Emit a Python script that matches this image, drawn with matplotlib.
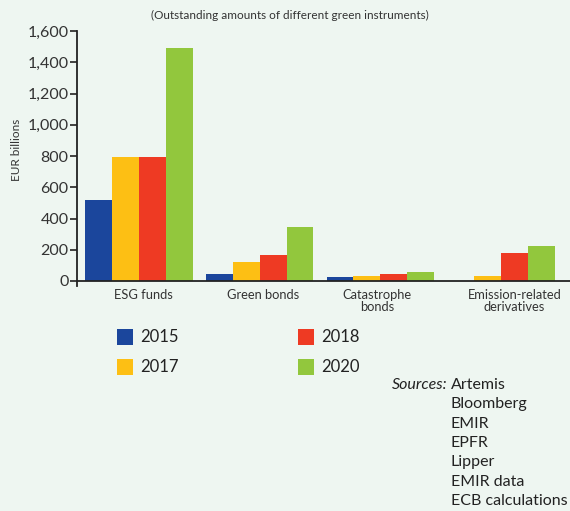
import matplotlib
matplotlib.use("Agg")
import matplotlib.pyplot as plt
import numpy as np
from matplotlib.patches import Rectangle

categories = ["ESG funds", "Green bonds", "Catastrophe\nbonds", "Emission-related\nderivatives"]
years = ["2015", "2017", "2018", "2020"]
v2015 = [520, 45, 25, 0]
v2017 = [795, 122, 32, 32]
v2018 = [795, 167, 43, 180]
v2020 = [1490, 346, 58, 224]
series = [v2015, v2017, v2018, v2020]
colors = ["#1B469C", "#FDBF14", "#EE3A23", "#92C73D"]
yticks = [0, 200, 400, 600, 800, 1000, 1200, 1400, 1600]
sources = ["Artemis", "Bloomberg", "EMIR", "EPFR", "Lipper", "EMIR data", "ECB calculations"]

bg = "#EEF6F1"
txt = "#333333"
plt.rcParams['font.family'] = ['Lato', 'DejaVu Sans']

fig = plt.figure(figsize=(5.70, 5.11), dpi=100, facecolor=bg)
ax = fig.add_axes([77/570, 1-286/511, 1-77/570, (286-31)/511])
ax.set_facecolor(bg)

x = np.arange(len(categories))
w = 0.223
for i, (vals, c) in enumerate(zip(series, colors)):
    ax.bar(x + (i - 1.5) * w, vals, width=w, color=c, linewidth=0, zorder=2)

ax.set_xlim(-0.512, 3.57)
ax.set_ylim(-32, 1600)
ax.axhline(0, color="#222222", lw=1.3, zorder=3)

for s in ["top", "right", "bottom"]:
    ax.spines[s].set_visible(False)
ax.spines["left"].set_color("#222222")
ax.spines["left"].set_linewidth(1.3)

ax.set_yticks(yticks)
ax.set_yticklabels([f"{v:,}" for v in yticks], fontsize=11.5, color=txt)
ax.tick_params(axis="y", length=5, width=1.2, color="#222222", pad=1)
ax.set_xticks([])
label_shift = [0.035, 0.03, -0.025, 0.11]
for xi, cat, sh in zip(x, categories, label_shift):
    ax.text(xi + sh, -50, cat, ha="center", va="top", fontsize=9.3, color=txt,
            linespacing=1.0)

fig.text(17/570, 1-150/511, "EUR billions", rotation=90, ha="center", va="center",
         fontsize=8.5, color=txt)
fig.text(290/570, 1-15/511, "(Outstanding amounts of different green instruments)",
         ha="center", va="center", fontsize=8.5, color=txt)

# legend
lx = [117, 117, 298, 298]
ly = [337, 367, 337, 367]
for yr, c, px, py in zip(years, colors, lx, ly):
    fig.add_artist(Rectangle((px/570, 1-(py+8)/511), 16/570, 16/511,
                             transform=fig.transFigure, color=c, lw=0))
    fig.text((px+23)/570, 1-py/511, yr, ha="left", va="center", fontsize=12,
             color="#222222")

fig.text(448/570, 1-385/511, "Sources:", ha="right", va="center", fontsize=11.5,
         style="italic", color="#222222")
for k, s in enumerate(sources):
    fig.text(451/570, 1-(385 + 19.3*k)/511, s, ha="left", va="center", fontsize=11.5,
             color="#222222")

fig.savefig("out.png", dpi=100, facecolor=bg)
